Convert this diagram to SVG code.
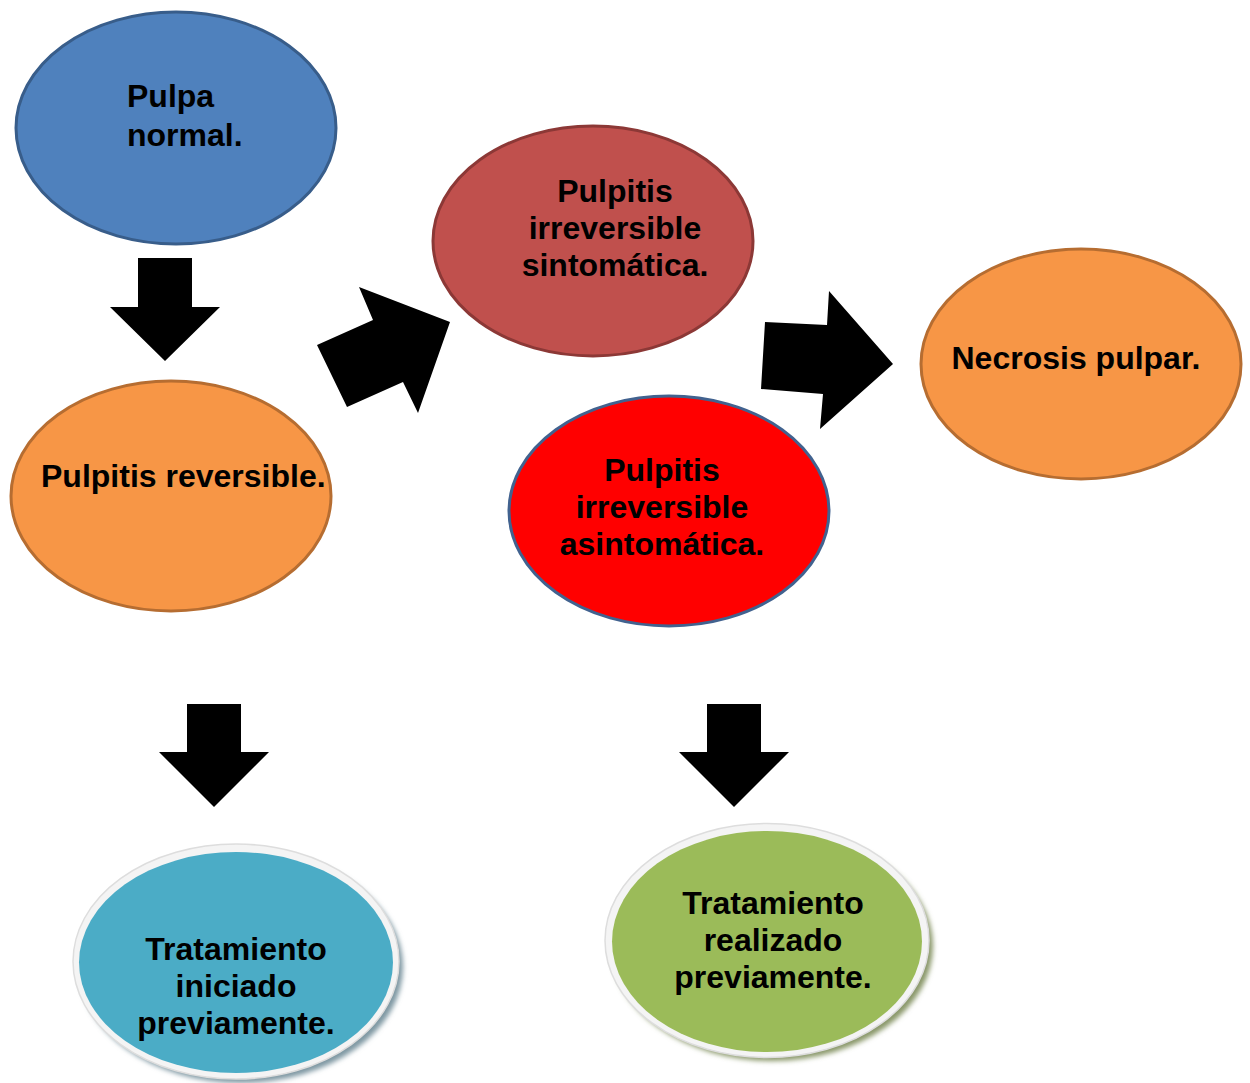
<svg xmlns="http://www.w3.org/2000/svg" width="1250" height="1083" viewBox="0 0 1250 1083">
<style>
text{font-family:"Liberation Sans",Arial,sans-serif;font-weight:bold;font-size:32px;fill:#000}
.c{text-anchor:middle}
.arrow{fill:#000}
.rim{fill:#F4F4F4;stroke:#DDDDDD;stroke-width:1.5}
</style>
<defs>
<filter id="blur" x="-10%" y="-10%" width="120%" height="120%"><feGaussianBlur stdDeviation="2.5"/></filter>
</defs>
<rect width="1250" height="1083" fill="#fff"/>
<g id="connectors">
<polygon class="arrow" points="138,258 192,258 192,307 220,307 165,361 110,307 138,307"/>
<polygon class="arrow" points="317,345 373,320 359,287 450,322 418,413 403,382 347,407"/>
<polygon class="arrow" points="765,322 827,325 829,291 893,364 820,429 823,394 761,389"/>
<polygon class="arrow" points="187,704 241,704 241,752 269,752 214,807 159,752 187,752"/>
<polygon class="arrow" points="707,704 761,704 761,752 789,752 734,807 679,752 707,752"/>
</g>
<g id="pulpa-normal">
<ellipse cx="176" cy="128" rx="160" ry="116" fill="#4F81BD" stroke="#385D8A" stroke-width="3"/>
<text x="127" y="107">Pulpa</text>
<text x="127" y="146">normal.</text>
</g>
<g id="pulpitis-reversible">
<ellipse cx="171" cy="496" rx="160" ry="115" fill="#F79646" stroke="#B66D31" stroke-width="3"/>
<text x="41" y="487">Pulpitis reversible.</text>
</g>
<g id="pulpitis-sintomatica">
<ellipse cx="593" cy="241" rx="160" ry="115" fill="#C0504D" stroke="#8C3836" stroke-width="3"/>
<text class="c" x="615" y="202">Pulpitis</text>
<text class="c" x="615" y="239">irreversible</text>
<text class="c" x="615" y="276">sintomática.</text>
</g>
<g id="necrosis-pulpar">
<ellipse cx="1081" cy="364" rx="160" ry="115" fill="#F79646" stroke="#B66D31" stroke-width="3"/>
<text class="c" x="1076" y="369">Necrosis pulpar.</text>
</g>
<g id="pulpitis-asintomatica">
<ellipse cx="669" cy="511" rx="160" ry="115" fill="#FF0000" stroke="#41628F" stroke-width="3"/>
<text class="c" x="662" y="481">Pulpitis</text>
<text class="c" x="662" y="518">irreversible</text>
<text class="c" x="662" y="555">asintomática.</text>
</g>
<g id="tratamiento-iniciado">
<ellipse cx="241" cy="967" rx="162" ry="116" fill="#7F98A3" filter="url(#blur)"/>
<ellipse class="rim" cx="236" cy="961.5" rx="163" ry="117.5"/>
<ellipse cx="236" cy="962.5" rx="157" ry="110.5" fill="#4BACC6"/>
<text class="c" x="236" y="960">Tratamiento</text>
<text class="c" x="236" y="997">iniciado</text>
<text class="c" x="236" y="1034">previamente.</text>
</g>
<g id="tratamiento-realizado">
<ellipse cx="772" cy="946" rx="161" ry="115" fill="#8A986A" filter="url(#blur)"/>
<ellipse class="rim" cx="767" cy="940.5" rx="162" ry="117"/>
<ellipse cx="767" cy="941.5" rx="155" ry="110.5" fill="#9BBB59"/>
<text class="c" x="773" y="914">Tratamiento</text>
<text class="c" x="773" y="951">realizado</text>
<text class="c" x="773" y="988">previamente.</text>
</g>
</svg>
